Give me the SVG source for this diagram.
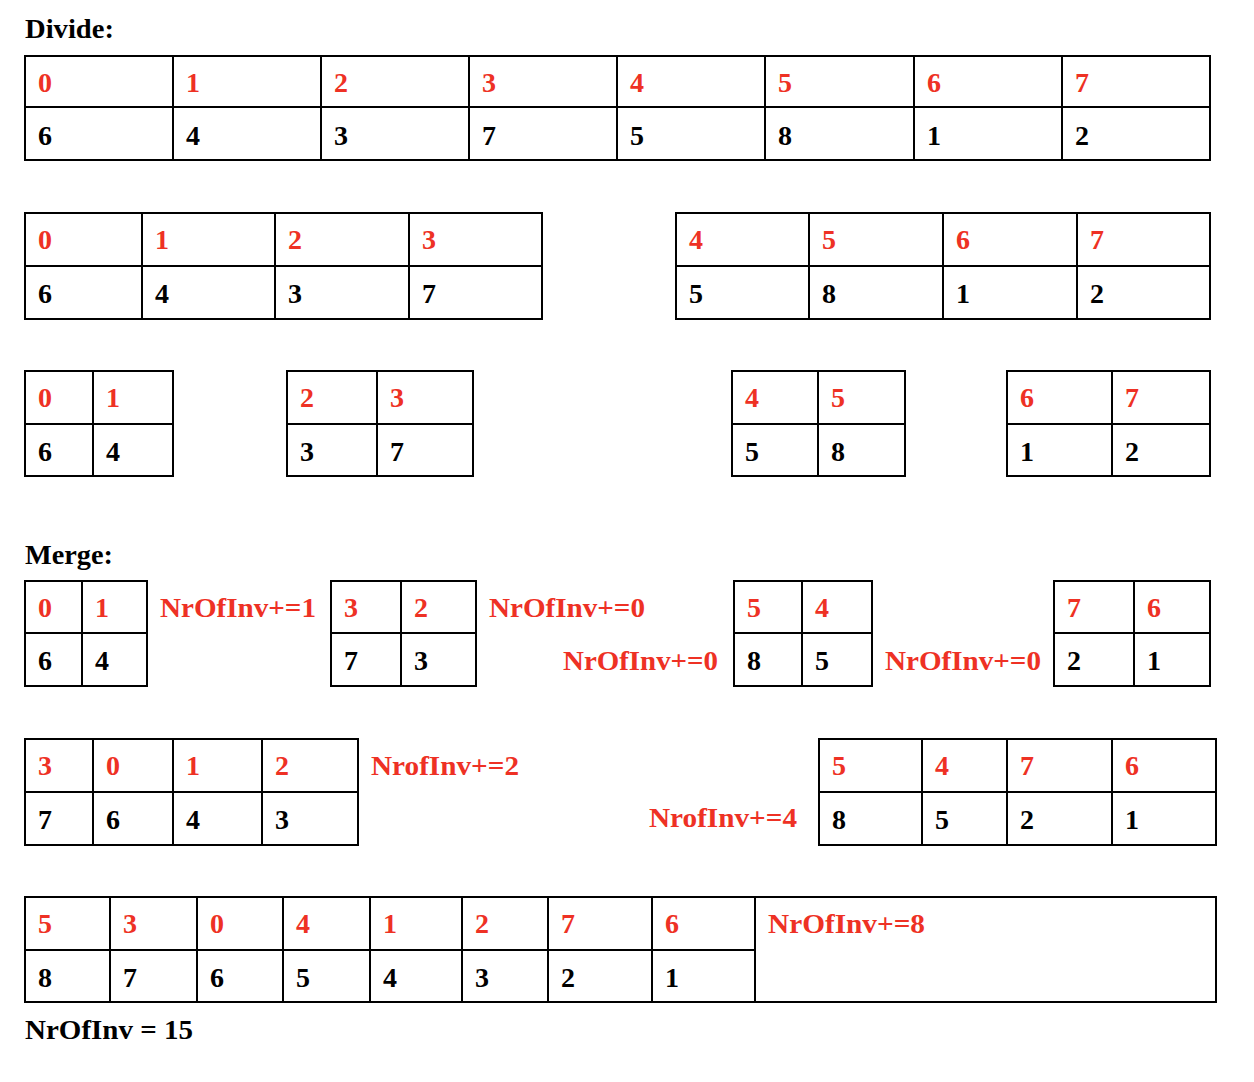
<svg xmlns="http://www.w3.org/2000/svg" width="1254" height="1082" viewBox="0 0 1254 1082">
<style>
text{font-family:"Liberation Serif","Times New Roman",serif;font-weight:bold;font-size:28px}
.r{fill:#ee3124}
.k{fill:#000}
.b{fill:none;stroke:#000;stroke-width:2}
</style>
<rect width="1254" height="1082" fill="#fff"/>
<text x="25" y="38" class="k" textLength="89" lengthAdjust="spacingAndGlyphs">Divide:</text>
<text x="25" y="564" class="k" textLength="88" lengthAdjust="spacingAndGlyphs">Merge:</text>
<text x="25" y="1039" class="k" textLength="168" lengthAdjust="spacingAndGlyphs">NrOfInv = 15</text>

<g id="t1">
<rect class="b" x="25" y="56" width="1185" height="104"/>
<path class="b" d="M25 107H1210M173 56V160M321 56V160M469 56V160M617 56V160M765 56V160M914 56V160M1062 56V160"/>
<g class="r"><text x="38" y="92">0</text><text x="186" y="92">1</text><text x="334" y="92">2</text><text x="482" y="92">3</text><text x="630" y="92">4</text><text x="778" y="92">5</text><text x="927" y="92">6</text><text x="1075" y="92">7</text></g>
<g class="k"><text x="38" y="145">6</text><text x="186" y="145">4</text><text x="334" y="145">3</text><text x="482" y="145">7</text><text x="630" y="145">5</text><text x="778" y="145">8</text><text x="927" y="145">1</text><text x="1075" y="145">2</text></g>
</g>

<g id="t2a">
<rect class="b" x="25" y="213" width="517" height="106"/>
<path class="b" d="M25 266H542M142 213V319M275 213V319M409 213V319"/>
<g class="r"><text x="38" y="249">0</text><text x="155" y="249">1</text><text x="288" y="249">2</text><text x="422" y="249">3</text></g>
<g class="k"><text x="38" y="303">6</text><text x="155" y="303">4</text><text x="288" y="303">3</text><text x="422" y="303">7</text></g>
</g>
<g id="t2b">
<rect class="b" x="676" y="213" width="534" height="106"/>
<path class="b" d="M676 266H1210M809 213V319M943 213V319M1077 213V319"/>
<g class="r"><text x="689" y="249">4</text><text x="822" y="249">5</text><text x="956" y="249">6</text><text x="1090" y="249">7</text></g>
<g class="k"><text x="689" y="303">5</text><text x="822" y="303">8</text><text x="956" y="303">1</text><text x="1090" y="303">2</text></g>
</g>

<g id="t3a">
<rect class="b" x="25" y="371" width="148" height="105"/>
<path class="b" d="M25 424H173M93 371V476"/>
<g class="r"><text x="38" y="407">0</text><text x="106" y="407">1</text></g>
<g class="k"><text x="38" y="461">6</text><text x="106" y="461">4</text></g>
</g>
<g id="t3b">
<rect class="b" x="287" y="371" width="186" height="105"/>
<path class="b" d="M287 424H473M377 371V476"/>
<g class="r"><text x="300" y="407">2</text><text x="390" y="407">3</text></g>
<g class="k"><text x="300" y="461">3</text><text x="390" y="461">7</text></g>
</g>
<g id="t3c">
<rect class="b" x="732" y="371" width="173" height="105"/>
<path class="b" d="M732 424H905M818 371V476"/>
<g class="r"><text x="745" y="407">4</text><text x="831" y="407">5</text></g>
<g class="k"><text x="745" y="461">5</text><text x="831" y="461">8</text></g>
</g>
<g id="t3d">
<rect class="b" x="1007" y="371" width="203" height="105"/>
<path class="b" d="M1007 424H1210M1112 371V476"/>
<g class="r"><text x="1020" y="407">6</text><text x="1125" y="407">7</text></g>
<g class="k"><text x="1020" y="461">1</text><text x="1125" y="461">2</text></g>
</g>

<g id="t4a">
<rect class="b" x="25" y="581" width="122" height="105"/>
<path class="b" d="M25 633H147M82 581V686"/>
<g class="r"><text x="38" y="617">0</text><text x="95" y="617">1</text></g>
<g class="k"><text x="38" y="670">6</text><text x="95" y="670">4</text></g>
</g>
<g id="t4b">
<rect class="b" x="331" y="581" width="145" height="105"/>
<path class="b" d="M331 633H476M401 581V686"/>
<g class="r"><text x="344" y="617">3</text><text x="414" y="617">2</text></g>
<g class="k"><text x="344" y="670">7</text><text x="414" y="670">3</text></g>
</g>
<g id="t4c">
<rect class="b" x="734" y="581" width="138" height="105"/>
<path class="b" d="M734 633H872M802 581V686"/>
<g class="r"><text x="747" y="617">5</text><text x="815" y="617">4</text></g>
<g class="k"><text x="747" y="670">8</text><text x="815" y="670">5</text></g>
</g>
<g id="t4d">
<rect class="b" x="1054" y="581" width="156" height="105"/>
<path class="b" d="M1054 633H1210M1134 581V686"/>
<g class="r"><text x="1067" y="617">7</text><text x="1147" y="617">6</text></g>
<g class="k"><text x="1067" y="670">2</text><text x="1147" y="670">1</text></g>
</g>
<g class="r">
<text x="160" y="617" textLength="156" lengthAdjust="spacingAndGlyphs">NrOfInv+=1</text>
<text x="489" y="617" textLength="156" lengthAdjust="spacingAndGlyphs">NrOfInv+=0</text>
<text x="563" y="670" textLength="155" lengthAdjust="spacingAndGlyphs">NrOfInv+=0</text>
<text x="885" y="670" textLength="156" lengthAdjust="spacingAndGlyphs">NrOfInv+=0</text>
</g>

<g id="t5a">
<rect class="b" x="25" y="739" width="333" height="106"/>
<path class="b" d="M25 792H358M93 739V845M173 739V845M262 739V845"/>
<g class="r"><text x="38" y="775">3</text><text x="106" y="775">0</text><text x="186" y="775">1</text><text x="275" y="775">2</text></g>
<g class="k"><text x="38" y="829">7</text><text x="106" y="829">6</text><text x="186" y="829">4</text><text x="275" y="829">3</text></g>
</g>
<g id="t5b">
<rect class="b" x="819" y="739" width="397" height="106"/>
<path class="b" d="M819 792H1216M922 739V845M1007 739V845M1112 739V845"/>
<g class="r"><text x="832" y="775">5</text><text x="935" y="775">4</text><text x="1020" y="775">7</text><text x="1125" y="775">6</text></g>
<g class="k"><text x="832" y="829">8</text><text x="935" y="829">5</text><text x="1020" y="829">2</text><text x="1125" y="829">1</text></g>
</g>
<g class="r">
<text x="371" y="775" textLength="148" lengthAdjust="spacingAndGlyphs">NrofInv+=2</text>
<text x="649" y="827" textLength="148" lengthAdjust="spacingAndGlyphs">NrofInv+=4</text>
</g>

<g id="t6">
<rect class="b" x="25" y="897" width="1191" height="105"/>
<path class="b" d="M25 950H755M110 897V1002M197 897V1002M283 897V1002M370 897V1002M462 897V1002M548 897V1002M652 897V1002M755 897V1002"/>
<g class="r"><text x="38" y="933">5</text><text x="123" y="933">3</text><text x="210" y="933">0</text><text x="296" y="933">4</text><text x="383" y="933">1</text><text x="475" y="933">2</text><text x="561" y="933">7</text><text x="665" y="933">6</text></g>
<g class="k"><text x="38" y="987">8</text><text x="123" y="987">7</text><text x="210" y="987">6</text><text x="296" y="987">5</text><text x="383" y="987">4</text><text x="475" y="987">3</text><text x="561" y="987">2</text><text x="665" y="987">1</text></g>
<text x="768" y="933" class="r" textLength="157" lengthAdjust="spacingAndGlyphs">NrOfInv+=8</text>
</g>
</svg>
